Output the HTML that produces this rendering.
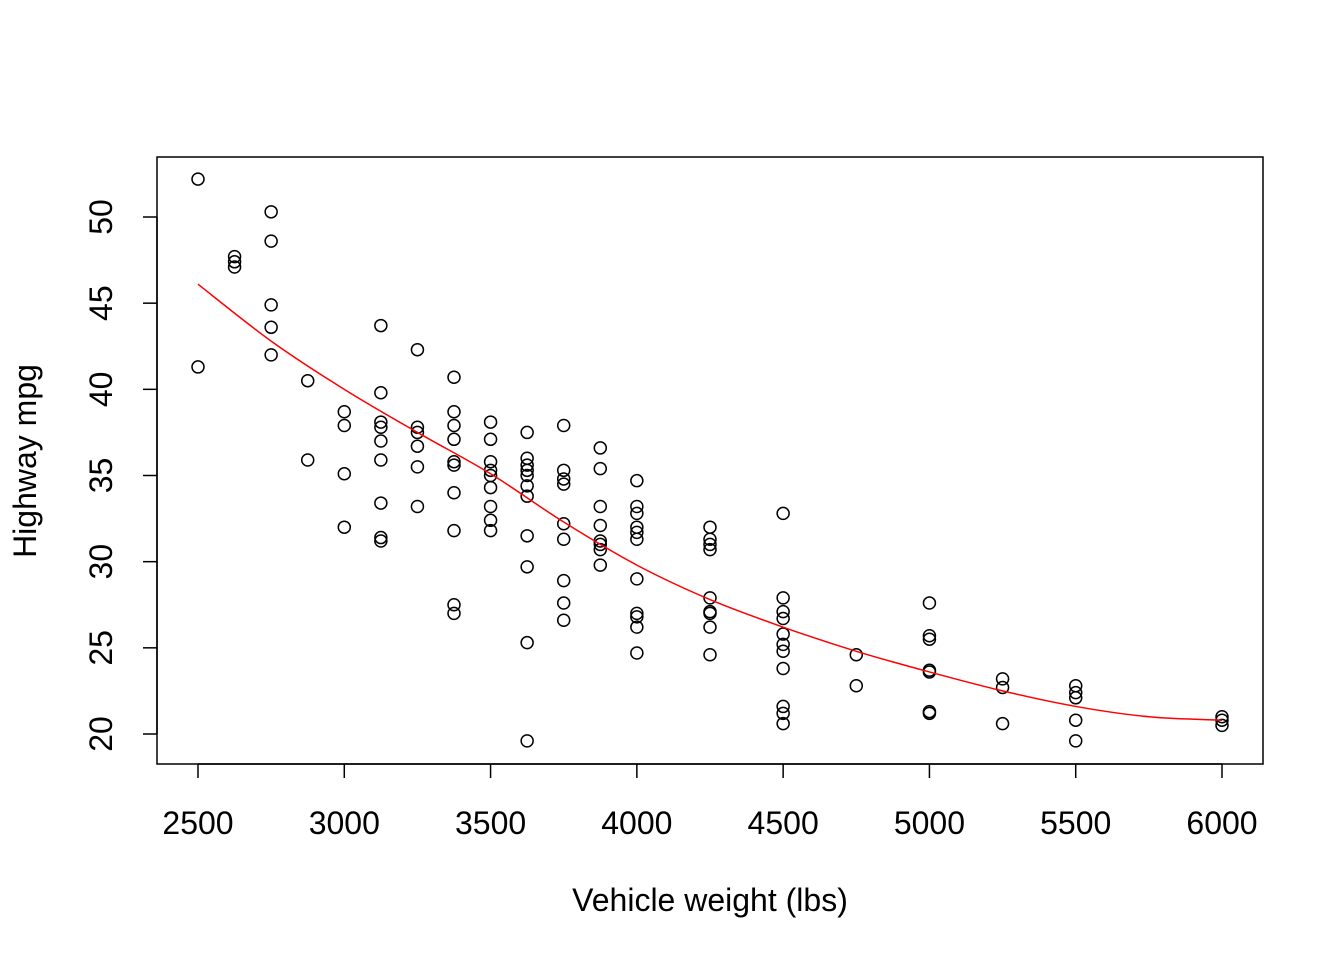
<!DOCTYPE html>
<html><head><meta charset="utf-8"><style>
body{margin:0;background:#fff}
text{font-family:"Liberation Sans",Arial,sans-serif;fill:#000}
</style></head><body>
<svg id="chart" width="1344" height="960" xmlns="http://www.w3.org/2000/svg">
<rect x="157" y="157" width="1106" height="607" fill="none" stroke="#000" stroke-width="1.5"/>
<g id="xaxis"></g>
<g id="yaxis"></g>
<g id="pts"></g>
<g id="fit"></g>
<text x="710" y="911" font-size="32" text-anchor="middle">Vehicle weight (lbs)</text>
<text transform="translate(36,461) rotate(-90)" font-size="32" text-anchor="middle">Highway mpg</text>
</svg>
<script>
const xTicks=[2500,3000,3500,4000,4500,5000,5500,6000];
const yTicks=[20,25,30,35,40,45,50];
const weights=[2500,2625,2750,2875,3000,3125,3250,3375,3500,3625,3750,3875,4000,4250,4500,4750,5000,5250,5500,6000];
const mpgs=[
[52.2,41.3],
[47.7,47.4,47.1],
[50.3,48.6,44.9,43.6,42.0],
[40.5,35.9],
[38.7,37.9,35.1,32.0],
[43.7,39.8,38.1,37.8,37.0,35.9,33.4,31.4,31.2],
[42.3,37.8,37.5,36.7,35.5,33.2],
[40.7,38.7,37.9,37.1,35.8,35.6,34.0,31.8,27.5,27.0],
[38.1,37.1,35.8,35.3,35.0,34.3,33.2,32.4,31.8],
[37.5,36.0,35.6,35.3,35.0,34.4,33.8,31.5,29.7,25.3,19.6],
[37.9,35.3,34.8,34.5,32.2,31.3,28.9,27.6,26.6],
[36.6,35.4,33.2,32.1,31.2,31.0,30.7,29.8],
[34.7,33.2,32.8,32.0,31.7,31.3,29.0,27.0,26.8,26.2,24.7],
[32.0,31.3,31.0,30.7,27.9,27.1,27.0,26.2,24.6],
[32.8,27.9,27.1,26.7,25.8,25.2,24.8,23.8,21.6,21.2,20.6],
[24.6,22.8],
[27.6,25.7,25.5,23.7,23.6,21.3,21.2],
[23.2,22.7,20.6],
[22.8,22.4,22.1,20.8,19.6],
[21.0,20.8,20.5]
];
const fitX=[2500,2750,3000,3250,3500,3750,4000,4250,4500,4750,5000,5250,5500,5750,6000];
const fitY=[46.1,42.8,40.0,37.5,35.1,32.3,29.8,27.8,26.2,24.8,23.6,22.5,21.6,21.0,20.8];
const NS="http://www.w3.org/2000/svg";
const sx=v=>198+(v-2500)*1024/3500;
const sy=v=>217+(50-v)*517/30;
function mk(t,a,p){const e=document.createElementNS(NS,t);for(const k in a)e.setAttribute(k,a[k]);p.appendChild(e);return e;}
const xa=document.getElementById('xaxis'),ya=document.getElementById('yaxis');
mk('line',{x1:sx(xTicks[0]),x2:sx(xTicks[xTicks.length-1]),y1:764,y2:764,stroke:'#000','stroke-width':1.5},xa);
xTicks.forEach(t=>{
 const l=mk('line',{x1:sx(t),x2:sx(t),y1:764,y2:778,stroke:'#000','stroke-width':1.5},xa);
 
 
 const tx=mk('text',{x:sx(t),y:834,'font-size':32,'text-anchor':'middle'},xa);tx.textContent=t;
 
 
});
mk('line',{x1:157,x2:157,y1:sy(yTicks[0]),y2:sy(yTicks[yTicks.length-1]),stroke:'#000','stroke-width':1.5},ya);
yTicks.forEach(t=>{
 const l=mk('line',{x1:143,x2:157,y1:sy(t),y2:sy(t),stroke:'#000','stroke-width':1.5},ya);
 
 
 const tx=mk('text',{transform:`translate(112,${sy(t)}) rotate(-90)`,'font-size':32,'text-anchor':'middle'},ya);tx.textContent=t;
 
 
});
const pg=document.getElementById('pts');
weights.forEach((w,i)=>mpgs[i].forEach(m=>{
 const c=mk('circle',{cx:sx(w),cy:sy(m),r:6,fill:'none',stroke:'#000','stroke-width':1.5},pg);
 
 
}));
const P=fitX.map((x,i)=>[sx(x),sy(fitY[i])]);
let d='M'+P[0][0]+','+P[0][1];
for(let i=0;i<P.length-1;i++){
 const p0=P[Math.max(i-1,0)],p1=P[i],p2=P[i+1],p3=P[Math.min(i+2,P.length-1)];
 d+=` C${p1[0]+(p2[0]-p0[0])/6},${p1[1]+(p2[1]-p0[1])/6} ${p2[0]-(p3[0]-p1[0])/6},${p2[1]-(p3[1]-p1[1])/6} ${p2[0]},${p2[1]}`;
}
const fp=mk('path',{d:d,fill:'none',stroke:'#ff0000','stroke-width':1.5},document.getElementById('fit'));


</script>
</body></html>
